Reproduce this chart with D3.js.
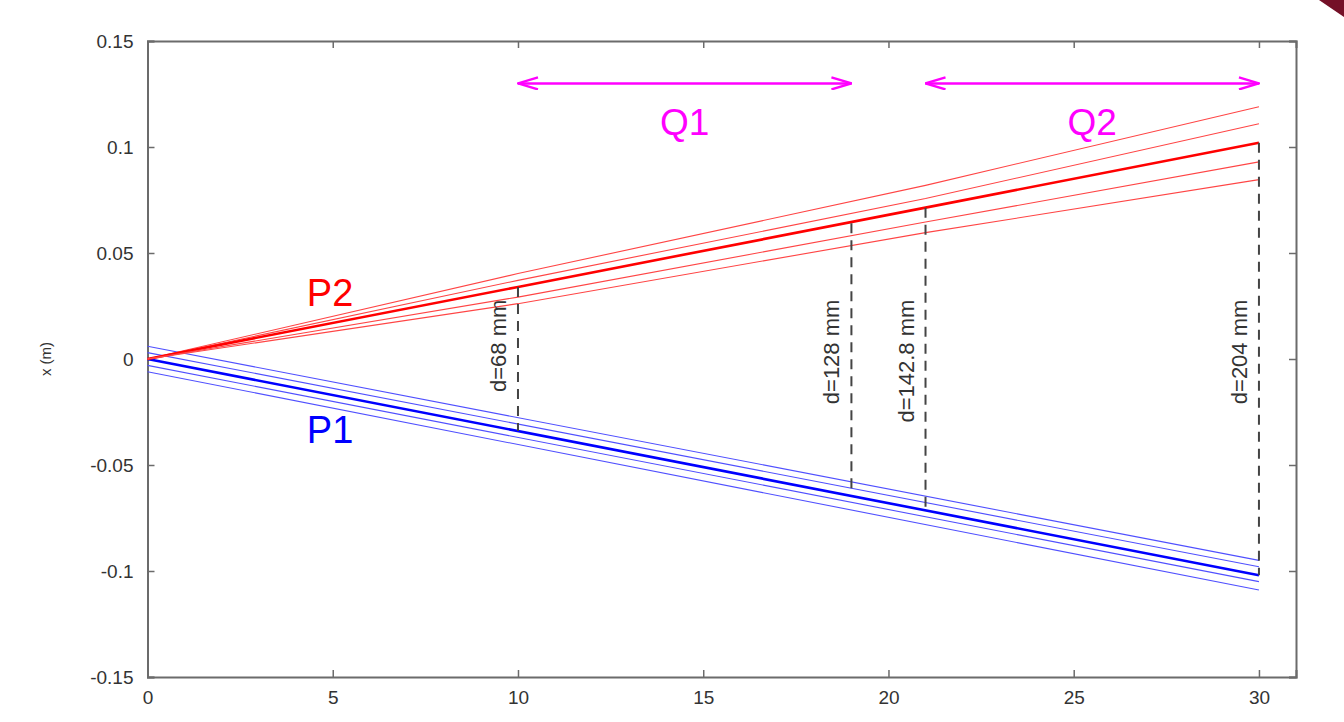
<!DOCTYPE html>
<html>
<head>
<meta charset="utf-8">
<script src="https://cdn.jsdelivr.net/npm/d3@7"></script>
<style>
  body { margin: 0; background: #fff; }
  svg { display: block; font-family: "Liberation Sans", Arial, sans-serif; }
</style>
</head>
<body>
<div id="chart"></div>
<script>
// Valores
const xTicks = [0, 5, 10, 15, 20, 25, 30];
const yTicks = [-0.15, -0.1, -0.05, 0, 0.05, 0.1, 0.15];

// feixe P2 (vermelho): pontos x e os cinco traços, o do meio é o principal
const p2X = [0, 10, 21, 30];
const p2Lines = [
  [0, 0.0403, 0.0819, 0.119],
  [0, 0.0371, 0.0757, 0.111],
  [0, 0.0340, 0.0714, 0.102],
  [0, 0.0292, 0.0646, 0.093],
  [0, 0.0261, 0.0596, 0.0846]
];

// feixe P1 (azul)
const p1X = [0, 30];
const p1Lines = [
  [0.006, -0.095],
  [0.003, -0.098],
  [0, -0.102],
  [-0.003, -0.105],
  [-0.006, -0.109]
];
const mainIndex = 2;

// distâncias entre feixes (mm)
const gapX = [10, 19, 21, 30];
const gapD = [68, 128, 142.8, 204];

// zonas Q1 / Q2
const zoneNames = ["Q1", "Q2"];
const zoneFrom = [10, 21];
const zoneTo = [19, 30];
const zoneY = 0.13;

const width = 1344, height = 722;
const margin = { left: 147.5, right: 48, top: 41, bottom: 45 };

const svg = d3.select("#chart").append("svg")
  .attr("width", width)
  .attr("height", height);

const x = d3.scaleLinear().domain([0, 31]).range([margin.left, width - margin.right]);
const y = d3.scaleLinear().domain([-0.15, 0.15]).range([height - margin.bottom, margin.top]);

// canto vermelho escuro no topo direito
svg.append("path")
  .attr("d", "M1319,0 L1344,0 L1344,17 Z")
  .attr("fill", "#741027");

// marcadores das setas
const defs = svg.append("defs");
["start", "end"].forEach(k => {
  defs.append("marker")
    .attr("id", "arrow-" + k)
    .attr("viewBox", "0 0 22 14")
    .attr("refX", k === "end" ? 21 : 1)
    .attr("refY", 7)
    .attr("markerWidth", 22)
    .attr("markerHeight", 14)
    .attr("markerUnits", "userSpaceOnUse")
    .attr("orient", "auto")
    .append("path")
    .attr("d", k === "end" ? "M1,1 L21,7 L1,13" : "M21,1 L1,7 L21,13")
    .attr("fill", "none")
    .attr("stroke", "#ff00ff")
    .attr("stroke-width", 2.4);
});

// eixos
const axisColor = "#6b6b6b";
const tickLen = 7;

const gx = svg.append("g")
  .attr("transform", `translate(0,${y(-0.15)})`)
  .call(d3.axisBottom(x).tickValues(xTicks).tickSize(-tickLen).tickPadding(14).tickFormat(d3.format("d")));
const gxTop = svg.append("g")
  .attr("transform", `translate(0,${y(0.15)})`)
  .call(d3.axisTop(x).tickValues(xTicks).tickSize(-tickLen).tickFormat(""));
const gy = svg.append("g")
  .attr("transform", `translate(${x(0)},0)`)
  .call(d3.axisLeft(y).tickValues(yTicks).tickSize(-tickLen).tickPadding(14).tickFormat(d => d === 0 ? "0" : String(+d.toFixed(2))));
const gyRight = svg.append("g")
  .attr("transform", `translate(${x(31)},0)`)
  .call(d3.axisRight(y).tickValues(yTicks).tickSize(-tickLen).tickFormat(""));

[gx, gxTop, gy, gyRight].forEach(g => {
  g.select(".domain").attr("stroke", axisColor).attr("stroke-width", 2);
  g.selectAll(".tick line").attr("stroke", axisColor).attr("stroke-width", 1.5);
  g.selectAll(".tick text").attr("fill", "#333").style("font-size", "19px");
});

svg.append("text")
  .attr("transform", `translate(51,${y(0)}) rotate(-90)`)
  .attr("text-anchor", "middle")
  .attr("fill", "#333")
  .style("font-size", "15px")
  .text("x (m)");

// traços dos feixes
const lineGen = (xs) => d3.line()
  .x((d, i) => x(xs[i]))
  .y(d => y(d));

svg.append("g").selectAll("path")
  .data(p1Lines)
  .join("path")
  .attr("d", lineGen(p1X))
  .attr("fill", "none")
  .attr("stroke", (d, i) => i === mainIndex ? "#0000ff" : "#5050ff")
  .attr("stroke-width", (d, i) => i === mainIndex ? 2.6 : 1.1);

svg.append("g").selectAll("path")
  .data(p2Lines)
  .join("path")
  .attr("d", lineGen(p2X))
  .attr("fill", "none")
  .attr("stroke", (d, i) => i === mainIndex ? "#ff0000" : "#ff4545")
  .attr("stroke-width", (d, i) => i === mainIndex ? 2.6 : 1.1);

// linhas tracejadas de distância
const gaps = gapX.map((gx0, i) => ({ x: gx0, d: gapD[i] }));

svg.append("g").selectAll("line")
  .data(gaps)
  .join("line")
  .attr("x1", d => x(d.x))
  .attr("x2", d => x(d.x))
  .attr("y1", d => y(d.d / 2000))
  .attr("y2", d => y(-d.d / 2000))
  .attr("stroke", "#444")
  .attr("stroke-width", 2)
  .attr("stroke-dasharray", "10,7");

svg.append("g").selectAll("text")
  .data(gaps)
  .join("text")
  .attr("transform", d => `translate(${x(d.x) - 12},${y(0.028)}) rotate(-90)`)
  .attr("text-anchor", "end")
  .attr("fill", "#333")
  .style("font-size", "22px")
  .text(d => `d=${d.d} mm`);

// setas Q1 / Q2
zoneNames.forEach((name, i) => {
  svg.append("line")
    .attr("x1", x(zoneFrom[i]))
    .attr("x2", x(zoneTo[i]))
    .attr("y1", y(zoneY))
    .attr("y2", y(zoneY))
    .attr("stroke", "#ff00ff")
    .attr("stroke-width", 2.5)
    .attr("marker-start", "url(#arrow-start)")
    .attr("marker-end", "url(#arrow-end)");

  svg.append("text")
    .attr("x", x((zoneFrom[i] + zoneTo[i]) / 2))
    .attr("y", y(zoneY) + 52)
    .attr("text-anchor", "middle")
    .attr("fill", "#ff00ff")
    .style("font-size", "37px")
    .text(name);
});

// rótulos dos feixes
svg.append("text")
  .attr("x", x(4.3))
  .attr("y", y(0.0) - 53)
  .attr("fill", "#ff0000")
  .style("font-size", "38px")
  .text("P2");

svg.append("text")
  .attr("x", x(4.3))
  .attr("y", y(0.0) + 84)
  .attr("fill", "#0000ff")
  .style("font-size", "38px")
  .text("P1");
</script>
</body>
</html>
